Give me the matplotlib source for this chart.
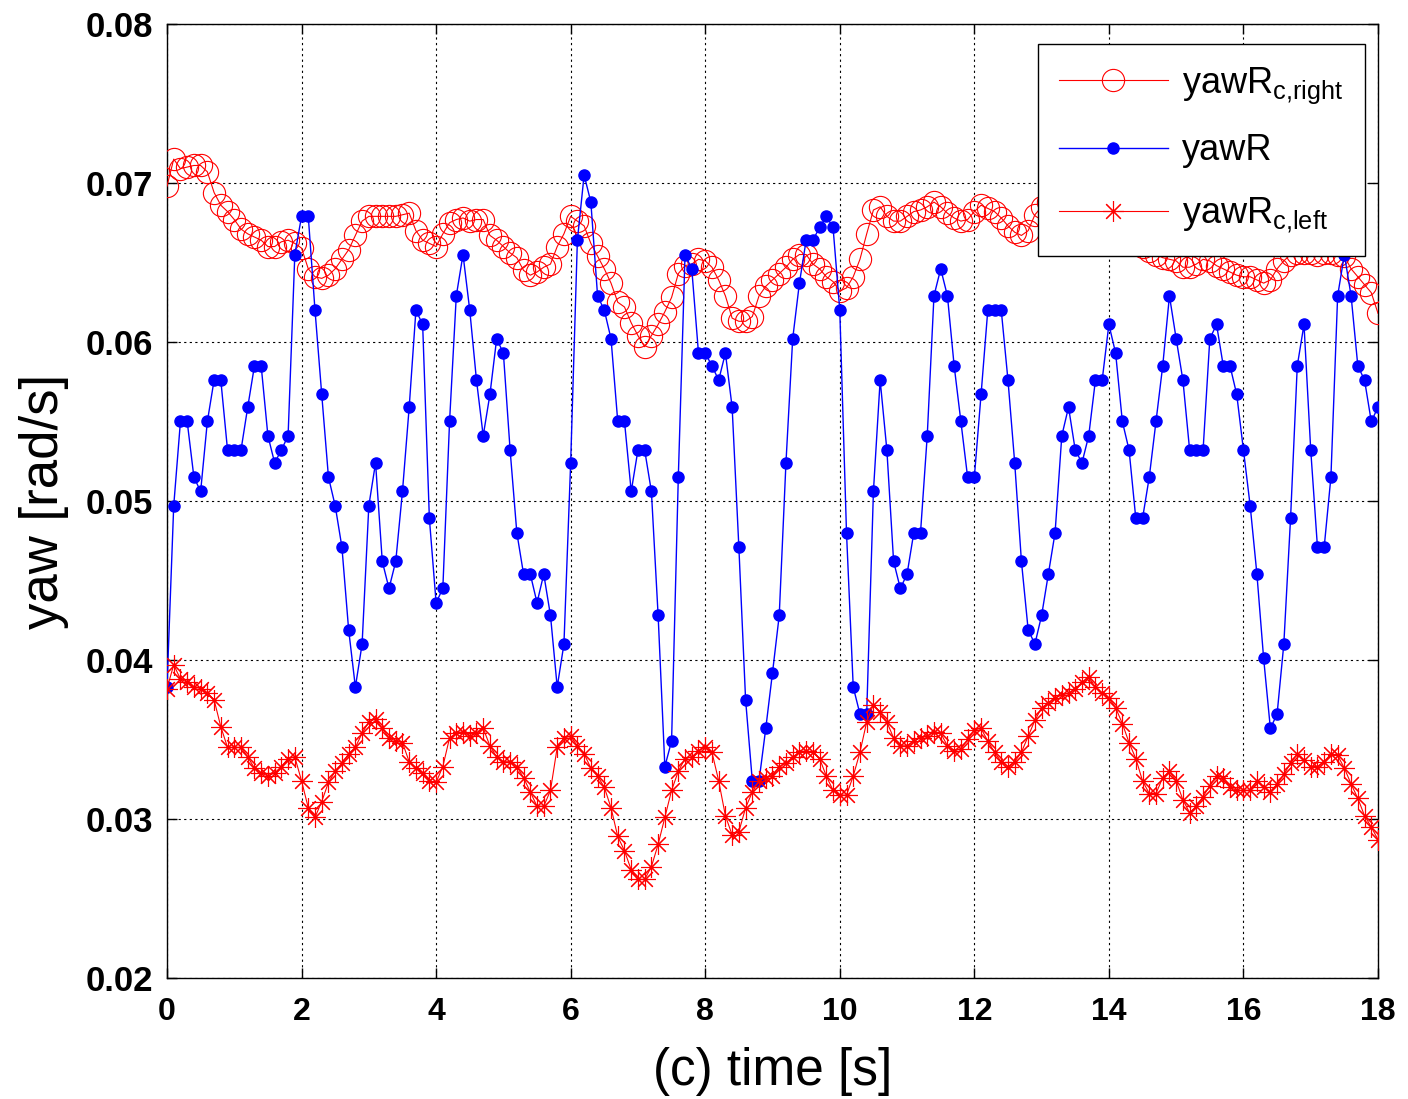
import matplotlib
matplotlib.use('Agg')
import matplotlib.pyplot as plt
import numpy as np

plt.rcParams['font.family'] = ['Liberation Sans', 'DejaVu Sans']
plt.rcParams['mathtext.default'] = 'regular'

# DATA: sampled every 0.1 s from 0 to 18 s
time = [round(0.1 * k, 1) for k in range(181)]

yaw_r = [
    0.0383, 0.0497, 0.0550, 0.0550, 0.0515, 0.0506, 0.0550, 0.0576, 0.0576, 0.0532,
    0.0532, 0.0532, 0.0559, 0.0585, 0.0585, 0.0541, 0.0524, 0.0532, 0.0541, 0.0655,
    0.0679, 0.0679, 0.0620, 0.0567, 0.0515, 0.0497, 0.0471, 0.0419, 0.0383, 0.0410,
    0.0497, 0.0524, 0.0462, 0.0445, 0.0462, 0.0506, 0.0559, 0.0620, 0.0611, 0.0489,
    0.0436, 0.0445, 0.0550, 0.0629, 0.0655, 0.0620, 0.0576, 0.0541, 0.0567, 0.0602,
    0.0593, 0.0532, 0.0480, 0.0454, 0.0454, 0.0436, 0.0454, 0.0428, 0.0383, 0.0410,
    0.0524, 0.0664, 0.0705, 0.0688, 0.0629, 0.0620, 0.0602, 0.0550, 0.0550, 0.0506,
    0.0532, 0.0532, 0.0506, 0.0428, 0.0333, 0.0349, 0.0515, 0.0655, 0.0646, 0.0593,
    0.0593, 0.0585, 0.0576, 0.0593, 0.0559, 0.0471, 0.0375, 0.0324, 0.0324, 0.0357,
    0.0392, 0.0428, 0.0524, 0.0602, 0.0637, 0.0664, 0.0664, 0.0672, 0.0679, 0.0672,
    0.0620, 0.0480, 0.0383, 0.0366, 0.0366, 0.0506, 0.0576, 0.0532, 0.0462, 0.0445,
    0.0454, 0.0480, 0.0480, 0.0541, 0.0629, 0.0646, 0.0629, 0.0585, 0.0550, 0.0515,
    0.0515, 0.0567, 0.0620, 0.0620, 0.0620, 0.0576, 0.0524, 0.0462, 0.0419, 0.0410,
    0.0428, 0.0454, 0.0480, 0.0541, 0.0559, 0.0532, 0.0524, 0.0541, 0.0576, 0.0576,
    0.0611, 0.0593, 0.0550, 0.0532, 0.0489, 0.0489, 0.0515, 0.0550, 0.0585, 0.0629,
    0.0602, 0.0576, 0.0532, 0.0532, 0.0532, 0.0602, 0.0611, 0.0585, 0.0585, 0.0567,
    0.0532, 0.0497, 0.0454, 0.0401, 0.0357, 0.0366, 0.0410, 0.0489, 0.0585, 0.0611,
    0.0532, 0.0471, 0.0471, 0.0515, 0.0629, 0.0655, 0.0629, 0.0585, 0.0576, 0.0550,
    0.0559,
]

yaw_rc_right = [
    0.0698, 0.0715, 0.0709, 0.0710, 0.0711, 0.0711, 0.0707, 0.0694, 0.0686, 0.0682,
    0.0677, 0.0671, 0.0668, 0.0666, 0.0664, 0.0660, 0.0660, 0.0663, 0.0664, 0.0662,
    0.0659, 0.0646, 0.0641, 0.0640, 0.0642, 0.0646, 0.0652, 0.0658, 0.0667, 0.0676,
    0.0679, 0.0679, 0.0679, 0.0679, 0.0679, 0.0680, 0.0681, 0.0670, 0.0664, 0.0662,
    0.0660, 0.0668, 0.0675, 0.0677, 0.0678, 0.0676, 0.0677, 0.0677, 0.0667, 0.0664,
    0.0660, 0.0656, 0.0653, 0.0645, 0.0642, 0.0644, 0.0647, 0.0649, 0.0660, 0.0668,
    0.0679, 0.0676, 0.0673, 0.0662, 0.0654, 0.0646, 0.0637, 0.0625, 0.0622, 0.0612,
    0.0604, 0.0597, 0.0604, 0.0611, 0.0619, 0.0628, 0.0643, 0.0648, 0.0649, 0.0652,
    0.0651, 0.0647, 0.0639, 0.0629, 0.0615, 0.0613, 0.0613, 0.0616, 0.0629, 0.0635,
    0.0639, 0.0643, 0.0647, 0.0652, 0.0655, 0.0655, 0.0649, 0.0646, 0.0641, 0.0638,
    0.0632, 0.0634, 0.0641, 0.0652, 0.0668, 0.0683, 0.0685, 0.0679, 0.0676, 0.0676,
    0.0679, 0.0682, 0.0683, 0.0685, 0.0688, 0.0685, 0.0681, 0.0678, 0.0676, 0.0677,
    0.0682, 0.0686, 0.0684, 0.0682, 0.0678, 0.0673, 0.0669, 0.0667, 0.0670, 0.0680,
    0.0685, 0.0688, 0.0686, 0.0682, 0.0678, 0.0676, 0.0679, 0.0683, 0.0685, 0.0681,
    0.0676, 0.0671, 0.0668, 0.0665, 0.0662, 0.0660, 0.0657, 0.0655, 0.0653, 0.0652,
    0.0651, 0.0647, 0.0647, 0.0649, 0.0652, 0.0651, 0.0648, 0.0646, 0.0644, 0.0642,
    0.0641, 0.0641, 0.0639, 0.0637, 0.0639, 0.0646, 0.0651, 0.0655, 0.0656, 0.0656,
    0.0656, 0.0655, 0.0656, 0.0656, 0.0655, 0.0654, 0.0646, 0.0641, 0.0636, 0.0631,
    0.0618,
]

yaw_rc_left = [
    0.0382, 0.0397, 0.0388, 0.0386, 0.0383, 0.0382, 0.0379, 0.0375, 0.0358, 0.0345,
    0.0345, 0.0345, 0.0339, 0.0332, 0.0329, 0.0327, 0.0329, 0.0333, 0.0338, 0.0339,
    0.0324, 0.0307, 0.0301, 0.0311, 0.0323, 0.0330, 0.0335, 0.0341, 0.0345, 0.0354,
    0.0361, 0.0363, 0.0357, 0.0351, 0.0349, 0.0348, 0.0336, 0.0332, 0.0329, 0.0324,
    0.0323, 0.0333, 0.0351, 0.0354, 0.0355, 0.0352, 0.0354, 0.0357, 0.0346, 0.0339,
    0.0336, 0.0336, 0.0333, 0.0326, 0.0317, 0.0308, 0.0308, 0.0318, 0.0345, 0.0351,
    0.0352, 0.0346, 0.0341, 0.0332, 0.0327, 0.0320, 0.0307, 0.0289, 0.0280, 0.0268,
    0.0262, 0.0262, 0.0270, 0.0284, 0.0301, 0.0318, 0.0330, 0.0338, 0.0339, 0.0343,
    0.0345, 0.0342, 0.0324, 0.0302, 0.0290, 0.0292, 0.0307, 0.0317, 0.0324, 0.0326,
    0.0327, 0.0333, 0.0335, 0.0339, 0.0342, 0.0343, 0.0342, 0.0338, 0.0327, 0.0318,
    0.0315, 0.0315, 0.0327, 0.0342, 0.0361, 0.0372, 0.0367, 0.0361, 0.0351, 0.0346,
    0.0346, 0.0349, 0.0351, 0.0352, 0.0355, 0.0354, 0.0346, 0.0343, 0.0344, 0.0350,
    0.0356, 0.0357, 0.0349, 0.0342, 0.0336, 0.0333, 0.0336, 0.0342, 0.0352, 0.0362,
    0.0370, 0.0373, 0.0376, 0.0378, 0.0379, 0.0382, 0.0386, 0.0389, 0.0383, 0.0379,
    0.0376, 0.0370, 0.0360, 0.0348, 0.0338, 0.0324, 0.0316, 0.0316, 0.0326, 0.0330,
    0.0324, 0.0312, 0.0304, 0.0308, 0.0314, 0.0321, 0.0327, 0.0326, 0.0320, 0.0318,
    0.0318, 0.0318, 0.0324, 0.0320, 0.0317, 0.0322, 0.0328, 0.0335, 0.0341, 0.0337,
    0.0333, 0.0333, 0.0336, 0.0341, 0.0340, 0.0332, 0.0322, 0.0313, 0.0302, 0.0295,
    0.0287,
]

x_ticks = [0, 2, 4, 6, 8, 10, 12, 14, 16, 18]
y_ticks = [0.02, 0.03, 0.04, 0.05, 0.06, 0.07, 0.08]

# PLOTTING
fig = plt.figure(figsize=(14.08, 10.99), dpi=100)
ax = fig.add_axes([0.1186, 0.1101, 0.8601, 0.8681])

ax.plot(time, yaw_rc_right, color='r', lw=0.8, marker='o', ms=16, mfc='none',
        mec='r', mew=0.8, label=r'yawR$_{c{,}right}$', zorder=3)
ax.plot(time, yaw_r, color='b', lw=1.0, marker='o', ms=8, mfc='b', mec='b',
        label='yawR', zorder=4)
ax.plot(time, yaw_rc_left, color='r', lw=0.8, marker=(8, 2, 0), ms=15, mew=0.8,
        label=r'yawR$_{c{,}left}$', zorder=5)

ax.set_xlim(0, 18)
ax.set_ylim(0.02, 0.08)
ax.set_xticks(x_ticks)
ax.set_yticks(y_ticks)
ax.set_xticklabels([str(t) for t in x_ticks], fontsize=23, fontweight='bold')
ax.set_yticklabels(['%.2f' % t for t in y_ticks], fontsize=25, fontweight='bold')
ax.tick_params(direction='in', length=7, width=1, top=True, right=True)
ax.tick_params(axis='x', pad=14)
ax.tick_params(axis='y', pad=10)
ax.grid(True, color='k', linestyle=(0, (2, 3)), linewidth=0.8)
ax.set_axisbelow(True)
for sp in ax.spines.values():
    sp.set_linewidth(1.0)

ax.set_xlabel('(c) time [s]', fontsize=37, labelpad=14)
ax.set_ylabel('yaw [rad/s]', fontsize=38, labelpad=12)

leg = ax.legend(loc='upper right', bbox_to_anchor=(0.9893, 0.979), borderaxespad=0,
                fontsize=26, handlelength=3.0, labelspacing=0.75, fancybox=False,
                edgecolor='k', framealpha=1, borderpad=0.6, handletextpad=0.4)
leg.get_frame().set_linewidth(1.0)

plt.savefig('out.png', dpi=100)
